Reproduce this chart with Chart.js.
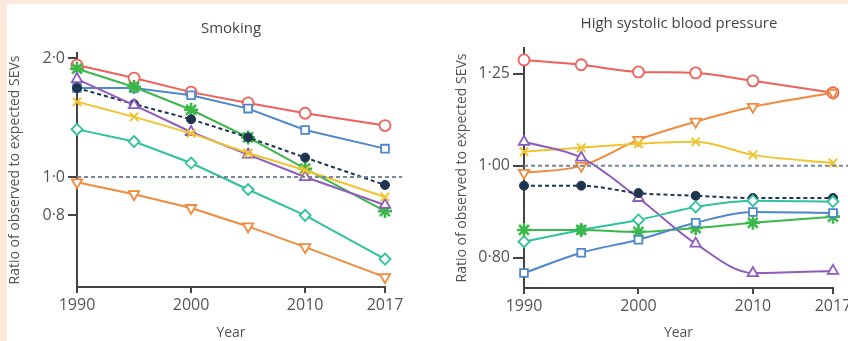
<!DOCTYPE html>
<html><head><meta charset="utf-8">
<script src="https://cdn.jsdelivr.net/npm/chart.js@4/dist/chart.umd.min.js"></script>
<style>
html,body{margin:0;padding:0;background:#fff;width:848px;height:341px;overflow:hidden;position:relative;font-family:"Open Sans",sans-serif;}
#c1{position:absolute;left:0;top:0;width:424px;height:341px;}
#c2{position:absolute;left:424px;top:0;width:440px;height:341px;}
.band{position:absolute;background:#fde8dc;z-index:5}
.ttl{position:absolute;color:#444;font-size:15px;line-height:20px;transform:translateX(-50%);white-space:nowrap;z-index:4}
</style></head><body>
<div class="band" style="left:0;top:0;width:848px;height:4px"></div>
<div class="band" style="left:0;top:0;width:7px;height:341px"></div>
<div class="ttl" style="left:231px;top:17px">Smoking</div>
<div class="ttl" style="left:679px;top:12px">High systolic blood pressure</div>
<canvas id="c1" width="424" height="341"></canvas>
<canvas id="c2" width="440" height="341"></canvas>
<script>
const years=[1990,1995,2000,2005,2010,2017];
const xTicks=[1990,2000,2010,2017];
const smokeYTicks=[0.8,1.0,2.0];
const bpYTicks=[0.8,1.0,1.25];
const refX=[1990,2018.5];
const refY=[1,1];
// Smoking
const smkRed=[1.92,1.78,1.64,1.54,1.45,1.35];
const smkBlue=[1.68,1.68,1.61,1.49,1.315,1.18];
const smkGreen=[1.88,1.69,1.48,1.26,1.05,0.82];
const smkNavy=[1.68,1.53,1.40,1.26,1.12,0.955];
const smkPurple=[1.77,1.52,1.30,1.14,1.00,0.85];
const smkYellow=[1.55,1.42,1.29,1.15,1.04,0.89];
const smkTeal=[1.32,1.23,1.085,0.93,0.80,0.62];
const smkOrange=[0.97,0.905,0.835,0.75,0.665,0.558];
// High systolic blood pressure
const bpRed=[1.293,1.278,1.256,1.253,1.229,1.194];
const bpOrange=[0.983,1.0,1.065,1.113,1.154,1.194];
const bpYellow=[1.035,1.045,1.055,1.06,1.027,1.007];
const bpPurple=[1.06,1.02,0.925,0.828,0.771,0.775];
const bpNavy=[0.953,0.953,0.936,0.93,0.925,0.925];
const bpTeal=[0.832,0.856,0.877,0.905,0.919,0.917];
const bpGreen=[0.856,0.856,0.852,0.86,0.871,0.884];
const bpBlue=[0.771,0.81,0.836,0.871,0.894,0.892];

const C={red:'#f0605a',blue:'#4f87cc',green:'#3cb84a',navy:'#1e3550',purple:'#8f5bbf',yellow:'#f0c430',teal:'#2ec39c',orange:'#f08a3c',ref:'#76879a'};

function pts(xs,vals){return vals.map((v,i)=>({x:xs[i],y:v}));}
function ser(vals,color,style,curved,extra){
  const d={data:pts(years,vals),borderColor:color,borderWidth:2,backgroundColor:'#fff',
    pointStyle:style,pointRadius:5.5,pointBorderWidth:1.8,pointBorderColor:color,pointBackgroundColor:'#fff',
    tension:0,clip:false,fill:false};
  if(curved){d.cubicInterpolationMode='monotone';}
  if(style==='star'){d.pointRadius=7;d.pointBorderWidth=2.6;}
  if(style==='crossRot'){d.pointRadius=6;d.pointBorderWidth=2;}
  if(style==='triangleDown'){d.pointStyle='triangle';d.pointRotation=180;d.pointRadius=6;}
  if(style==='triangle'){d.pointRadius=6;}
  if(style==='dot'){d.pointStyle='circle';d.pointBackgroundColor=color;d.borderDash=[4,3];d.borderColor=color;d.pointRadius=4.5;d.pointBorderWidth=1;}
  return Object.assign(d,extra||{});
}
function refLine(){
  return {data:pts(refX,refY),borderColor:C.ref,borderWidth:2,borderDash:[4,3],pointRadius:0,clip:false,fill:false};
}
function makeChart(id,datasets,yTicks,yMin,yMax,digits,pad,yW,xH,yTitlePad,yTickLen){
  return new Chart(document.getElementById(id),{
    type:'line',
    data:{datasets:datasets},
    options:{
      responsive:false,animation:false,
      layout:{padding:pad},
      plugins:{legend:{display:false},tooltip:{enabled:false},title:{display:false}},
      scales:{
        x:{type:'linear',min:1990,max:2017,
          afterBuildTicks:s=>{s.ticks=xTicks.map(v=>({value:v}));},
          afterFit:s=>{s.height=xH;},
          grid:{drawOnChartArea:false,drawTicks:true,tickLength:6,color:'#444',lineWidth:2},
          border:{display:true,color:'#444',width:2},
          ticks:{color:'#555',font:{family:'Open Sans',size:16},padding:3,maxRotation:0,callback:v=>String(v)},
          title:{display:true,text:'Year',color:'#555',font:{family:'Open Sans',size:14},padding:{top:0,bottom:0}}
        },
        y:{type:'logarithmic',min:yMin,max:yMax,bounds:'data',
          afterBuildTicks:s=>{s.ticks=yTicks.map(v=>({value:v}));},
          afterFit:s=>{s.width=yW;},
          grid:{drawOnChartArea:false,drawTicks:true,tickLength:yTickLen,color:'#444',lineWidth:2},
          border:{display:true,color:'#444',width:2},
          ticks:{color:'#555',font:{family:'Open Sans',size:16},padding:3,callback:v=>Number(v).toFixed(digits).replace('.','·')},
          title:{display:true,text:'Ratio of observed to expected SEVs',color:'#555',font:{family:'Open Sans',size:14},padding:{top:yTitlePad,bottom:0}}
        }
      }
    }
  });
}
makeChart('c1',[
  refLine(),
  ser(smkOrange,C.orange,'triangleDown',false),
  ser(smkTeal,C.teal,'rectRot',false),
  ser(smkYellow,C.yellow,'crossRot',false),
  ser(smkPurple,C.purple,'triangle',false),
  ser(smkNavy,C.navy,'dot',false),
  ser(smkGreen,C.green,'star',false),
  ser(smkBlue,C.blue,'rect',false),
  ser(smkRed,C.red,'circle',false)
],smokeYTicks,0.527,2.06,1,{left:0,right:39,top:53,bottom:0},77,54,7,9);

makeChart('c2',[
  refLine(),
  ser(bpBlue,C.blue,'rect',true),
  ser(bpGreen,C.green,'star',true),
  ser(bpTeal,C.teal,'rectRot',true),
  ser(bpNavy,C.navy,'dot',true),
  ser(bpPurple,C.purple,'triangle',true),
  ser(bpYellow,C.yellow,'crossRot',true),
  ser(bpOrange,C.orange,'triangleDown',true),
  ser(bpRed,C.red,'circle',true)
],bpYTicks,0.7435,1.331,2,{left:0,right:31,top:48,bottom:0},100,53,30,11);
</script>
</body></html>
